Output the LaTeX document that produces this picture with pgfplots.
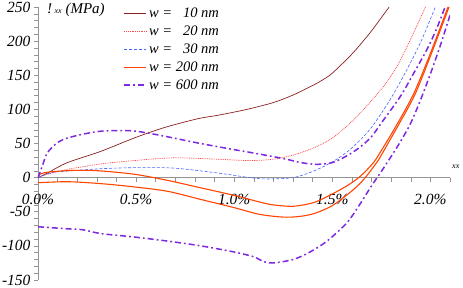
\documentclass[border=0pt]{standalone}
\usepackage{fontspec}
\setmainfont{Liberation Serif}
\usepackage{pgfplots}
\pgfplotsset{compat=1.18}
\definecolor{c10}{RGB}{139,30,30}
\definecolor{c20}{RGB}{255,70,70}
\definecolor{c30}{RGB}{70,100,255}
\definecolor{c200}{RGB}{255,69,0}
\definecolor{c600}{RGB}{125,40,225}
\begin{document}
\begin{tikzpicture}
\begin{axis}[
 name=ax, at={(0,0)}, anchor=south west,
 scale only axis, width=412pt, height=273pt,
 xmin=0, xmax=2.1, ymin=-150, ymax=250,
 axis lines=middle, axis line style={-, gray!85, line width=0.6pt},
 tick align=outside, tick style={gray!85, line width=0.5pt},
 major tick length=4pt, minor tick length=4pt,
 xtick={0,0.5,1,1.5,2}, xticklabels={0.0\%,0.5\%,1.0\%,1.5\%,2.0\%},
 minor xtick={0.1,0.2,0.3,0.4,0.6,0.7,0.8,0.9,1.1,1.2,1.3,1.4,1.6,1.7,1.8,1.9,2.1},
 ytick={-150,-100,-50,0,50,100,150,200,250},
 yticklabels={-150,-100,-50,0,50,100,150,200,250},
 minor y tick num=4,
 hide obscured x ticks=false, hide obscured y ticks=false,
 ticklabel style={font=\itshape\fontsize{15.5}{15.5}\selectfont},
 xticklabel style={yshift=-9pt},
 legend style={at={(0.2,1.011)}, anchor=north west, draw=none, fill=none,
   font=\itshape\fontsize{14.5}{17}\selectfont, row sep=2.7pt},
 legend cell align=left,
 legend image code/.code={\draw[#1] (0pt,0pt) -- (22pt,0pt);},
]
\addplot[c10, line width=0.7pt, smooth] coordinates {
(0,0)(0.05,7)(0.15,22)(0.32,38.5)(0.49,58)(0.64,73)(0.81,86)(0.91,91)(1.0,96)(1.08,101)(1.2,110)(1.3,121)(1.4,135)(1.45,143)(1.5,153)(1.6,181)(1.66,201)(1.7,215)(1.79,250)};
\addlegendentry{w = \hphantom{2}10 nm}
\addplot[c20, line width=0.7pt, dash pattern=on 0.9pt off 0.9pt, smooth] coordinates {
(0,0)(0.05,5)(0.15,12)(0.32,20)(0.49,25)(0.69,29)(0.91,27)(1.08,25)(1.2,27)(1.3,33)(1.4,43)(1.49,56)(1.58,77)(1.66,100)(1.762,134)(1.83,163)(1.898,202)(1.94,228)(1.975,250)};
\addlegendentry{w = \hphantom{2}20 nm}
\addplot[c30, line width=0.6pt, dash pattern=on 3pt off 1.8pt, smooth] coordinates {
(0,0)(0.065,7)(0.15,9.7)(0.32,13)(0.49,14.6)(0.69,14)(0.91,7)(1.08,0)(1.17,-2)(1.3,0)(1.4,9)(1.5,23)(1.59,41)(1.69,70)(1.79,112)(1.88,158)(1.956,202)(2.025,250)};
\addlegendentry{w = \hphantom{2}30 nm}
\addplot[c200, line width=1.1pt, smooth] coordinates {
(0,0)(0.01,5)(0.05,8)(0.15,10.2)(0.235,10.7)(0.32,9.8)(0.49,5)(0.66,-4)(0.83,-15)(1.0,-26)(1.133,-36)(1.2,-40)(1.3,-42)(1.4,-37)(1.473,-28)(1.575,-12)(1.643,2)(1.71,22)(1.755,42)(1.83,78)(1.915,123)(2.0,182)(2.09,250)};
\addlegendentry{w = 200 nm}
\addplot[c600, line width=1.5pt, dash pattern=on 6pt off 3pt on 1.8pt off 3pt, smooth] coordinates {
(0,0)(0.022,17)(0.047,36)(0.098,51)(0.15,58)(0.235,64)(0.32,68)(0.405,69)(0.5,68)(0.64,61)(0.81,51)(0.98,42)(1.08,37)(1.25,28)(1.34,22)(1.42,19.5)(1.5,22)(1.575,32)(1.643,45)(1.7,60)(1.745,78)(1.847,119)(1.915,153)(1.983,188)(2.03,217)(2.075,250)};
\addlegendentry{w = 600 nm}
\addplot[c200, line width=1.1pt, smooth, forget plot] coordinates {
(0,-7.5)(0.15,-6)(0.32,-8.8)(0.49,-13.6)(0.66,-20)(0.83,-32)(1.0,-44)(1.133,-54)(1.27,-58)(1.39,-54)(1.5,-41)(1.61,-17)(1.668,0)(1.736,26)(1.76,38)(1.835,76)(1.92,121)(2.0,178)(2.095,250)};
\addplot[c600, line width=1.5pt, dash pattern=on 6pt off 3pt on 1.8pt off 3pt, smooth, forget plot] coordinates {
(0,-72)(0.15,-75)(0.23,-76.5)(0.32,-82)(0.49,-87)(0.66,-93)(0.83,-100)(1.0,-109)(1.1,-116)(1.15,-123)(1.2,-125)(1.3,-120)(1.38,-110)(1.473,-93)(1.575,-66)(1.643,-38)(1.7,-12)(1.75,9)(1.8,31)(1.85,54)(1.9,80)(1.95,114)(2.0,152)(2.05,193)(2.1,238)};
\end{axis}
\node[anchor=base west, inner sep=0pt, font=\itshape\fontsize{15}{15}\selectfont] at (9pt,266pt) {!\,{\fontsize{8}{8}\selectfont xx} (MPa)};
\node[anchor=base west, inner sep=0pt, font=\itshape\fontsize{8}{8}\selectfont] at (414pt,111pt) {xx};
\pgfresetboundingbox
\path[use as bounding box] (-38pt,-8pt) rectangle (425pt,280pt);
\end{tikzpicture}
\end{document}
